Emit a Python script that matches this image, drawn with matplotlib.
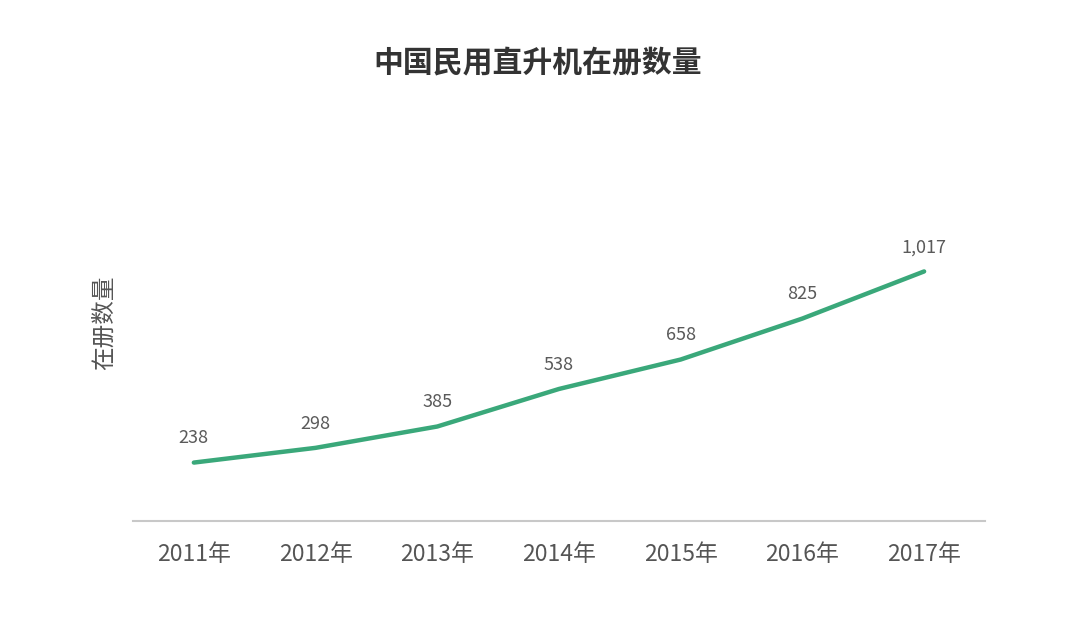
import matplotlib.pyplot as plt

plt.rcParams['font.family'] = ['Noto Sans CJK SC', 'DejaVu Sans']

# data
years = ["2011年", "2012年", "2013年", "2014年", "2015年", "2016年", "2017年"]
counts = [238, 298, 385, 538, 658, 825, 1017]

fig = plt.figure(figsize=(10.76, 6.39), dpi=100)
ax = fig.add_axes([0.1236, 0.1847, 0.7918, 0.4992])

x = list(range(len(years)))
ax.plot(x, counts, color="#3aa87a", linewidth=3.2, solid_capstyle="round")

for xi, v in zip(x, counts):
    ax.annotate(f"{v:,}", (xi, v), xytext=(0, 11), textcoords="offset points",
                ha="center", va="bottom", fontsize=13, color="#5a5a5a",
                fontweight="light")

ax.set_xlim(-0.5, len(years) - 0.5)
ax.set_ylim(0, 1300)
ax.set_xticks(x)
ax.set_xticklabels(years, fontsize=16.5, color="#555555", fontweight="light")
ax.tick_params(axis="x", length=0, pad=16)
ax.set_yticks([])
for s in ["top", "right", "left"]:
    ax.spines[s].set_visible(False)
ax.spines["bottom"].set_color("#c8c8c8")
ax.spines["bottom"].set_linewidth(1.5)

ax.set_ylabel("在册数量", fontsize=17, color="#555555", fontweight="light")
ax.yaxis.set_label_coords(-0.02, 0.62)

fig.text(0.5, 0.902, "中国民用直升机在册数量", ha="center", va="center",
         fontsize=21.5, color="#333333", fontweight="bold")

fig.savefig("out.png", dpi=100, facecolor="white")
